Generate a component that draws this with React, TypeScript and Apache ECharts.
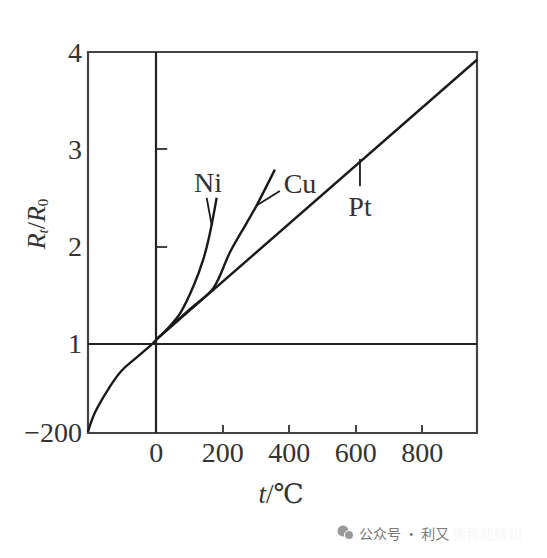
import React, { useEffect, useRef } from "react";
import * as echarts from "echarts";

// x: temperature t (°C), y: R_t / R_0
const lowCurve: [number, number][] = [
  [-205, 0.09], [-184, 0.29], [-144, 0.53], [-104, 0.72], [-54, 0.87], [-14, 0.99], [0, 1.04],
];
const ptCurve: [number, number][] = [[0, 1.04], [965, 3.92]];
const niCurve: [number, number][] = [
  [0, 1.04], [36, 1.16], [72, 1.31], [112, 1.59], [142, 1.87], [162, 2.14], [182, 2.5],
];
const cuCurve: [number, number][] = [
  [0, 1.04], [100, 1.35], [172, 1.57], [222, 1.94], [272, 2.24], [302, 2.42], [357, 2.79],
];
const niLeader: [number, number][] = [[167, 2.22], [152, 2.5]];
const cuLeader: [number, number][] = [[302, 2.42], [372, 2.57]];
const ptLeader: [number, number][] = [[613, 2.9], [613, 2.62]];

const xLabels = [0, 200, 400, 600, 800];
const xTicks = [200, 400, 600, 800];
const yLabels = [1, 2, 3, 4];
const yTicks = [2, 3];

const SERIF = "'Liberation Serif', 'DejaVu Serif', serif";
const INK = "#1a1a1a";
const FRAME = "#444";

export default function App() {
  const ref = useRef<HTMLDivElement>(null);
  useEffect(() => {
    if (!ref.current) return;
    const chart = echarts.init(ref.current, undefined, { renderer: "svg" });
    const lineStyle = { color: INK, width: 2.4 };
    const mkLine = (name: string, data: [number, number][], smooth: number | boolean, width = 2.4) => ({
      name,
      type: "line",
      data,
      smooth,
      symbol: "none",
      lineStyle: { ...lineStyle, width },
      z: 3,
    });
    chart.setOption({
      animation: false,
      backgroundColor: "#fff",
      grid: {
        left: 88,
        right: 70,
        top: 52,
        bottom: 125,
        show: true,
        borderColor: FRAME,
        borderWidth: 2.2,
        containLabel: false,
      },
      xAxis: {
        type: "value",
        min: -205,
        max: 965,
        splitLine: { show: false },
        axisLine: { show: false },
        axisTick: {
          show: true,
          inside: true,
          length: 8,
          customValues: xTicks,
          lineStyle: { color: FRAME, width: 2 },
        },
        axisLabel: {
          customValues: xLabels,
          fontFamily: SERIF,
          fontSize: 28,
          color: "#333",
          margin: 5,
        },
      },
      yAxis: {
        type: "value",
        min: 0.08,
        max: 4,
        splitLine: { show: false },
        axisLine: { show: false },
        axisTick: {
          show: true,
          inside: true,
          length: 11,
          customValues: yTicks,
          lineStyle: { color: FRAME, width: 2 },
        },
        axisLabel: {
          customValues: yLabels,
          fontFamily: SERIF,
          fontSize: 28,
          color: "#333",
          margin: 6,
        },
      },
      series: [
        {
          ...mkLine("low", lowCurve, 0.4),
          markLine: {
            silent: true,
            symbol: "none",
            label: { show: false },
            lineStyle: { color: "#222", width: 2.2, type: "solid" },
            data: [{ xAxis: 0 }, { yAxis: 1 }],
          },
        },
        mkLine("Pt", ptCurve, false),
        mkLine("Ni", niCurve, 0.3),
        mkLine("Cu", cuCurve, 0.3),
        mkLine("NiLeader", niLeader, false, 1.8),
        mkLine("CuLeader", cuLeader, false, 1.8),
        mkLine("PtLeader", ptLeader, false, 1.8),
      ],
      graphic: [
        {
          type: "text",
          x: 82,
          y: 432,
          style: {
            text: "\u2212200",
            fontFamily: SERIF,
            fontSize: 28,
            fill: "#333",
            align: "right",
            verticalAlign: "middle",
          },
        },
        {
          type: "text",
          x: 208,
          y: 182,
          style: { text: "Ni", fontFamily: SERIF, fontSize: 28, fill: "#333", align: "center", verticalAlign: "middle" },
        },
        {
          type: "text",
          x: 300,
          y: 183,
          style: { text: "Cu", fontFamily: SERIF, fontSize: 28, fill: "#333", align: "center", verticalAlign: "middle" },
        },
        {
          type: "text",
          x: 360,
          y: 206,
          style: { text: "Pt", fontFamily: SERIF, fontSize: 28, fill: "#333", align: "center", verticalAlign: "middle" },
        },
        {
          type: "text",
          x: 281,
          y: 494,
          style: {
            text: "{i|t}{n|/\u2103}",
            align: "center",
            verticalAlign: "middle",
            rich: {
              i: { fontFamily: SERIF, fontSize: 27, fontStyle: "italic", fill: "#333" },
              n: { fontFamily: SERIF, fontSize: 27, fill: "#333" },
            },
          },
        },
        {
          type: "text",
          x: 36,
          y: 224,
          rotation: Math.PI / 2,
          style: {
            text: "{i|R}{s|t}{n|/}{i|R}{z|0}",
            align: "center",
            verticalAlign: "middle",
            rich: {
              i: { fontFamily: SERIF, fontSize: 26, fontStyle: "italic", fill: "#333", lineHeight: 28, verticalAlign: "middle" },
              n: { fontFamily: SERIF, fontSize: 26, fill: "#333", lineHeight: 28, verticalAlign: "middle" },
              s: { fontFamily: SERIF, fontSize: 15, fill: "#333", lineHeight: 12, verticalAlign: "bottom", fontStyle: "italic" },
              z: { fontFamily: SERIF, fontSize: 15, fill: "#333", lineHeight: 12, verticalAlign: "bottom" },
            },
          },
        },
        // watermark
        {
          type: "circle",
          shape: { cx: 343, cy: 531, r: 5.5 },
          style: { fill: "#9a9a9a" },
        },
        {
          type: "circle",
          shape: { cx: 349, cy: 535, r: 4.5 },
          style: { fill: "#9a9a9a", stroke: "#fff", lineWidth: 1 },
        },
        {
          type: "text",
          x: 359,
          y: 533,
          style: {
            text: "公众号 · 利又",
            fontFamily: "'Noto Sans CJK SC', sans-serif",
            fontSize: 14,
            fill: "#7a7a7a",
            verticalAlign: "middle",
          },
        },
        {
          type: "text",
          x: 452,
          y: 533,
          style: {
            text: "德智能感知",
            fontFamily: "'Noto Sans CJK SC', sans-serif",
            fontSize: 14,
            fill: "#f7f7f7",
            verticalAlign: "middle",
          },
        },
      ],
    });
    return () => chart.dispose();
  }, []);
  return <div ref={ref} style={{ width: 547, height: 558, position: "absolute", left: 0, top: 0 }} />;
}
